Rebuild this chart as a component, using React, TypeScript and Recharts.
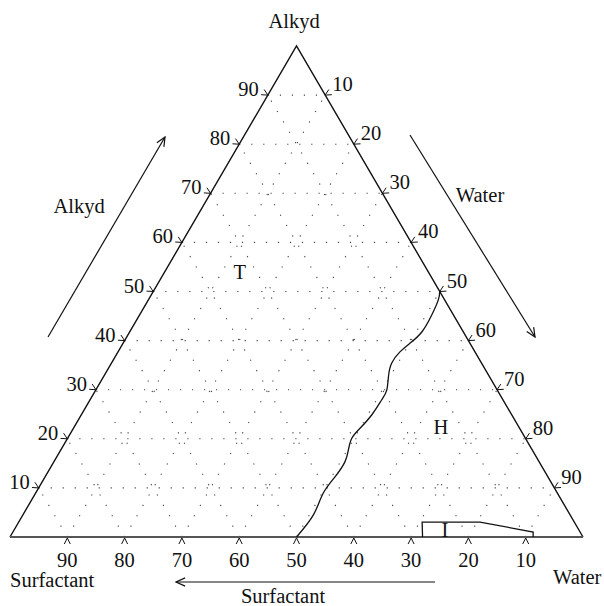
import React from 'react';
import { ComposedChart, Scatter, XAxis, YAxis, ReferenceLine } from 'recharts';

// ternary compositions in percent (alkyd, water; surfactant = rest)
const tickValues = [10, 20, 30, 40, 50, 60, 70, 80, 90];

const boundaryAlkyd = [0, 4.5, 8.9, 12.3, 15.3, 17.7, 20.1, 22.1, 24.9, 27.9, 29.9, 32.7, 35.4, 37.7, 39.5, 41.8, 45.2, 48.3, 50];
const boundaryWater = [50, 50.7, 50.2, 50.6, 50.8, 50.2, 49.6, 50.0, 50.7, 50.9, 50.8, 49.7, 48.9, 49.2, 50.1, 51.0, 51.0, 50.6, 50];

const regionIAlkyd = [0, 3.05, 3.05, 1.0, 0];
const regionIWater = [72, 70.4, 80.5, 90.8, 91.3];

const phaseNames = ['T', 'H', 'I'];
const phaseAlkyd = [54, 22.4, 1.4];
const phaseWater = [13.1, 64, 75.2];

const W = 604;
const H = 606;
const FONT = '"Liberation Serif", "DejaVu Serif", serif';
const FS = 20.5;

const tern = (a: number, w: number) => ({ x: w + a / 2, y: a });

const boundary = boundaryAlkyd.map((a, i) => tern(a, boundaryWater[i]));
const regionI = regionIAlkyd.map((a, i) => tern(a, regionIWater[i]));
const phases = phaseNames.map((name, i) => ({ ...tern(phaseAlkyd[i], phaseWater[i]), name }));

const leftSide = [tern(0, 0), tern(100, 0), tern(0, 100)];
const bottomSide = [tern(0, 0), tern(0, 100)];

const leftTicks = tickValues.map((v) => ({ ...tern(v, 0), label: String(v) }));
const rightTicks = tickValues.map((v) => ({ ...tern(100 - v, v), label: String(v) }));
const bottomTicks = tickValues.map((v) => ({ ...tern(0, 100 - v), label: String(v) }));

const none = () => <g />;

const LeftTick = (p: any) => (
  <g>
    <polyline points={`${p.cx - 3.7},${p.cy - 5.6} ${p.cx},${p.cy} ${p.cx - 6.7},${p.cy - 0.4}`} fill="none" stroke="#111" strokeWidth={1} />
    <text x={p.cx - 9} y={p.cy + 1} textAnchor="end" fontFamily={FONT} fontSize={FS} fill="#111">{p.payload.label}</text>
  </g>
);

const RightTick = (p: any) => (
  <g>
    <polyline points={`${p.cx + 3.7},${p.cy - 5.6} ${p.cx},${p.cy} ${p.cx + 6.7},${p.cy - 0.4}`} fill="none" stroke="#111" strokeWidth={1} />
    <text x={p.cx + 7} y={p.cy - 4} textAnchor="start" fontFamily={FONT} fontSize={FS} fill="#111">{p.payload.label}</text>
  </g>
);

const BottomTick = (p: any) => (
  <g>
    <polyline points={`${p.cx - 3},${p.cy + 7} ${p.cx},${p.cy + 1} ${p.cx + 3},${p.cy + 7}`} fill="none" stroke="#111" strokeWidth={1} />
    <text x={p.cx} y={p.cy + 30} textAnchor="middle" fontFamily={FONT} fontSize={FS} fill="#111">{p.payload.label}</text>
  </g>
);

const PhaseLabel = (p: any) => (
  <text x={p.cx} y={p.cy + 7} textAnchor="middle" fontFamily={FONT} fontSize={FS} fill="#111">{p.payload.name}</text>
);

const grid: { a: { x: number; y: number }; b: { x: number; y: number } }[] = [];
tickValues.forEach((k) => {
  grid.push({ a: tern(k, 0), b: tern(k, 100 - k) }); // constant alkyd
  grid.push({ a: tern(0, k), b: tern(100 - k, k) }); // constant water
  grid.push({ a: tern(0, 100 - k), b: tern(100 - k, 0) }); // constant surfactant
});

const Arrow = ({ x1, y1, x2, y2 }: { x1: number; y1: number; x2: number; y2: number }) => {
  const ang = Math.atan2(y2 - y1, x2 - x1);
  const len = 10;
  const spread = 0.42;
  const ax = x2 - len * Math.cos(ang - spread);
  const ay = y2 - len * Math.sin(ang - spread);
  const bx = x2 - len * Math.cos(ang + spread);
  const by = y2 - len * Math.sin(ang + spread);
  return (
    <g stroke="#111" strokeWidth={1.2} fill="none">
      <line x1={x1} y1={y1} x2={x2} y2={y2} />
      <polyline points={`${ax},${ay} ${x2},${y2} ${bx},${by}`} />
    </g>
  );
};

export default function App() {
  return (
    <div style={{ position: 'absolute', left: 0, top: 0, width: W, height: H, background: '#fff' }}>
      <ComposedChart width={W} height={H} margin={{ top: 0, right: 0, bottom: 0, left: 0 }}>
        <XAxis type="number" dataKey="x" domain={[-1.7452, 103.665]} allowDataOverflow hide />
        <YAxis type="number" dataKey="y" domain={[-14.053, 109.369]} allowDataOverflow hide />
        {grid.map((g, i) => (
          <ReferenceLine
            key={i}
            segment={[g.a, g.b]}
            stroke="#444"
            strokeWidth={1.1}
            strokeDasharray="1.2 10.8"
            ifOverflow="visible"
          />
        ))}
        <Scatter data={leftSide} shape={none} line={{ stroke: '#111', strokeWidth: 1.4 }} isAnimationActive={false} />
        <Scatter data={bottomSide} shape={none} line={{ stroke: '#555', strokeWidth: 2.2 }} isAnimationActive={false} />
        <Scatter data={boundary} shape={none} line={{ stroke: '#111', strokeWidth: 1.3 }} lineJointType="natural" isAnimationActive={false} />
        <Scatter data={regionI} shape={none} line={{ stroke: '#111', strokeWidth: 1.3 }} isAnimationActive={false} />
        <Scatter data={leftTicks} shape={LeftTick} isAnimationActive={false} />
        <Scatter data={rightTicks} shape={RightTick} isAnimationActive={false} />
        <Scatter data={bottomTicks} shape={BottomTick} isAnimationActive={false} />
        <Scatter data={phases} shape={PhaseLabel} isAnimationActive={false} />
      </ComposedChart>
      <svg width={W} height={H} style={{ position: 'absolute', left: 0, top: 0, pointerEvents: 'none' }}>
        <g fontFamily={FONT} fontSize={FS} fill="#111">
          <text x={294} y={28} textAnchor="middle">Alkyd</text>
          <text x={79} y={213} textAnchor="middle">Alkyd</text>
          <text x={480} y={202} textAnchor="middle">Water</text>
          <text x={10} y={587}>Surfactant</text>
          <text x={283} y={603} textAnchor="middle">Surfactant</text>
          <text x={553} y={584}>Water</text>
        </g>
        <Arrow x1={48} y1={337} x2={165} y2={137} />
        <Arrow x1={410} y1={135} x2={535} y2={337} />
        <Arrow x1={435} y1={582} x2={176} y2={582} />
      </svg>
    </div>
  );
}
